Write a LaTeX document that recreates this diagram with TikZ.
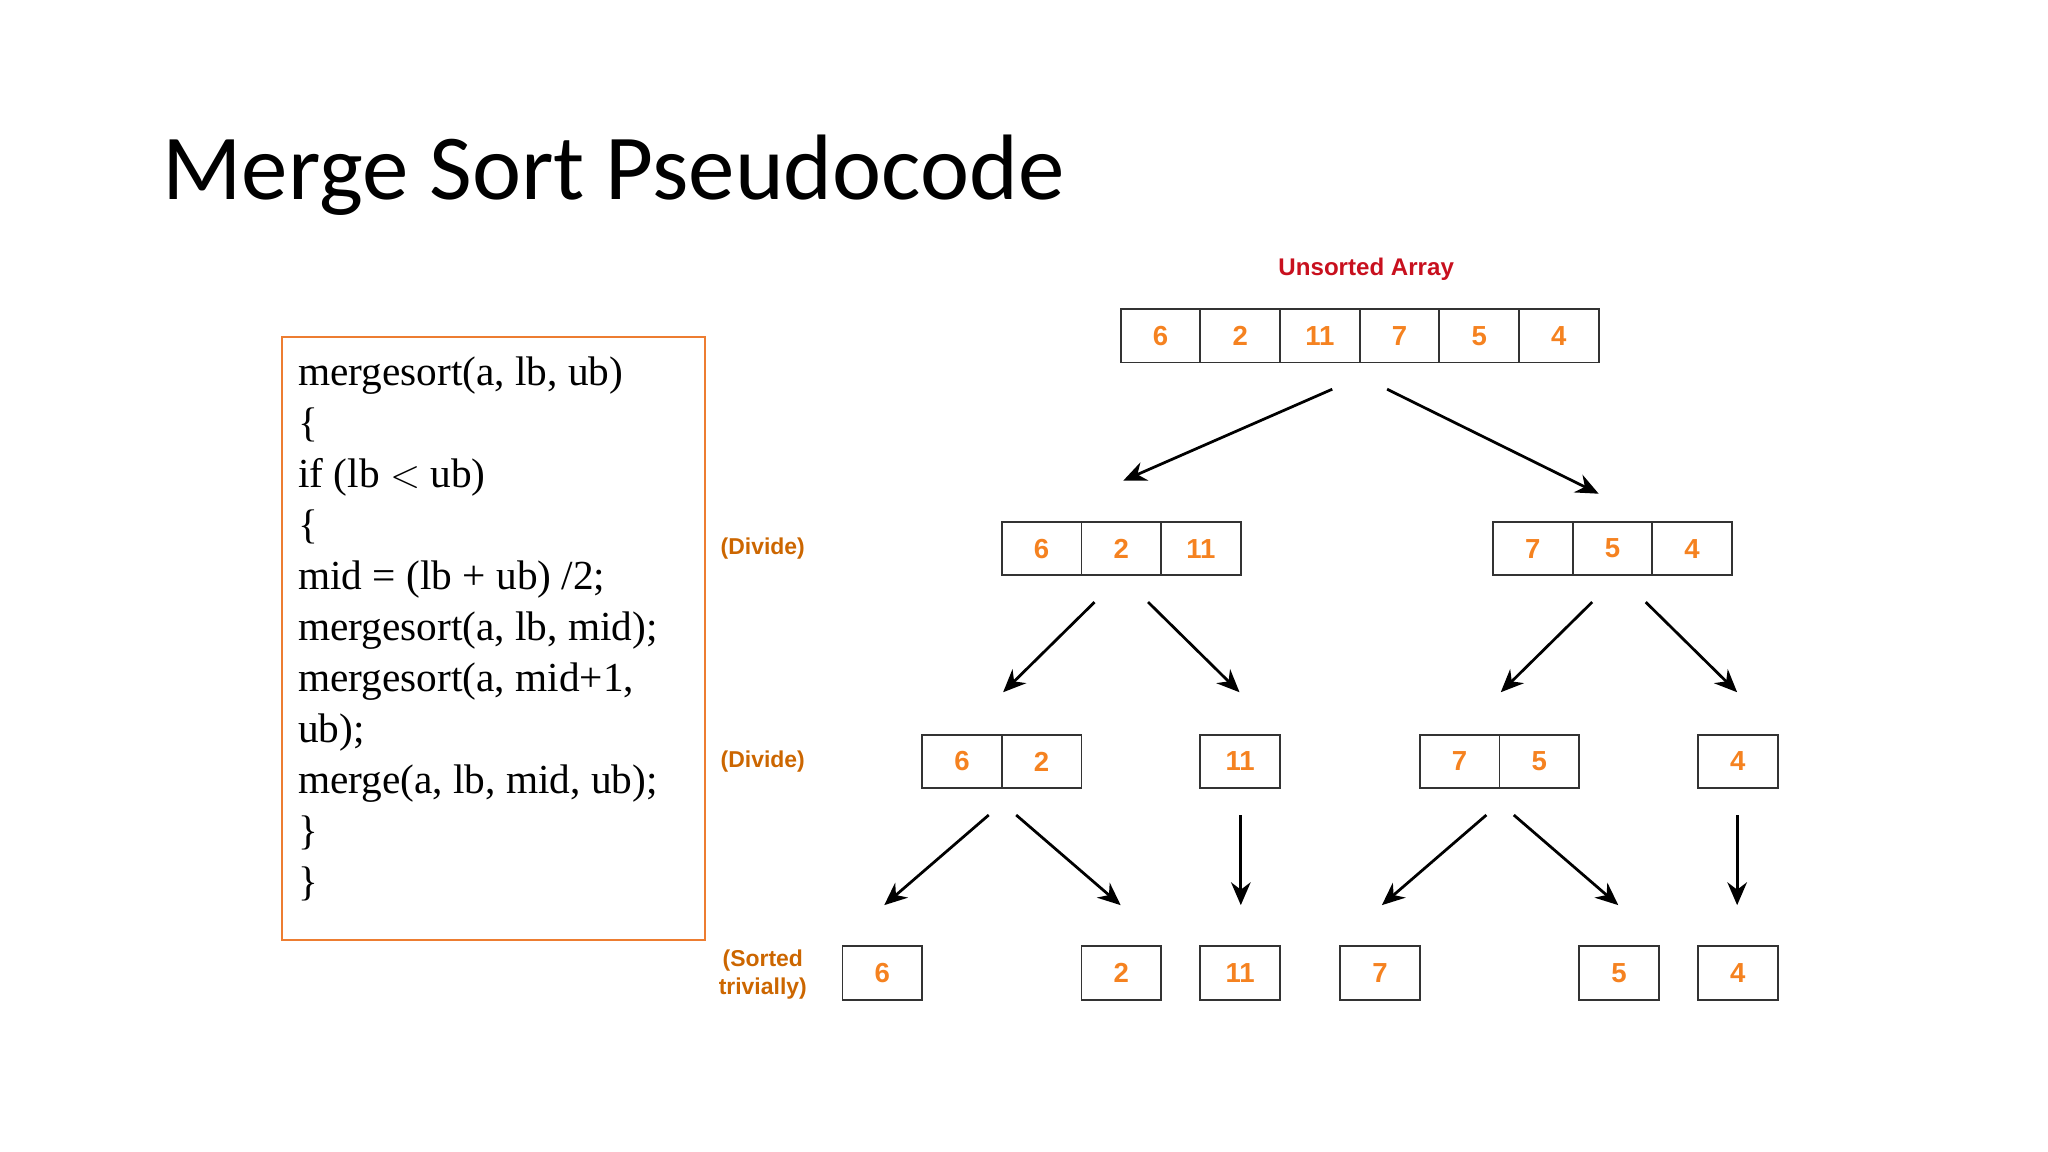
\documentclass[tikz,border=0pt]{standalone}
\usepackage{fontspec}
\setmainfont{Liberation Serif}
\newfontfamily\titlefont{Carlito}
\newfontfamily\numfont{Liberation Sans}
\usetikzlibrary{arrows.meta}
\definecolor{numorange}{RGB}{245,130,32}
\definecolor{labred}{RGB}{200,16,30}
\definecolor{boxorange}{RGB}{237,125,49}
\definecolor{labbrown}{RGB}{204,102,0}
\tikzset{
  cell/.style={draw=black!80,thick,minimum width=12.2mm,minimum height=8.2mm,
    inner sep=0pt,font=\numfont\bfseries\fontsize{12}{14}\selectfont,text=numorange},
  steplab/.style={font=\numfont\bfseries\fontsize{10}{12}\selectfont,text=labbrown,align=center},
  split/.style={-{Stealth[length=3.5mm,width=3mm]},very thick}
}
% row of cells: name, x of first centre, y, list
\newcommand{\cellrow}[4]{%
  \foreach \v [count=\i] in {#4}
    \node[cell] (#1-\i) at ({#2+61*(\i-1)},#3) {\v};
}
\begin{document}
\begin{tikzpicture}[x=0.2mm,y=-0.2mm]
  \useasboundingbox (0,0) rectangle (1568,882);

  \node[anchor=base west,font=\titlefont\fontsize{40.5}{46}\selectfont] (title) at (118,153) {Merge Sort Pseudocode};

  \node[draw=boxorange,thick,anchor=north west,minimum width=64.8mm,minimum height=92.4mm] (code) at (215,257) {};
  \node[anchor=north west,align=left,inner sep=0pt,font=\fontsize{18}{39\dimexpr0.2mm\relax}\selectfont] (lines) at (228,273)
    {mergesort(a, lb, ub)\\ \{\\ if (lb $<$ ub)\\ \{\\ mid = (lb + ub) /2;\\ mergesort(a, lb, mid);\\
     mergesort(a, mid+1,\\ ub);\\ merge(a, lb, mid, ub);\\ \}\\ \}};

  \node[font=\numfont\bfseries\fontsize{10.5}{12}\selectfont,text=labred] (unsorted) at (1046,206) {Unsorted Array};

  \cellrow{top}{888.5}{257}{6,2,11,7,5,4}
  \cellrow{la}{797.5}{420}{6,2,11}
  \cellrow{ra}{1173.5}{420}{7,5,4}
  \cellrow{lla}{736.5}{583}{6,2}
  \cellrow{llb}{949.5}{583}{11}
  \cellrow{rra}{1117.5}{583}{7,5}
  \cellrow{rrb}{1330.5}{583}{4}
  \node[cell] (s1) at (675.5,745) {6};
  \node[cell] (s2) at (858.5,745) {2};
  \node[cell] (s3) at (949.5,745) {11};
  \node[cell] (s4) at (1056.5,745) {7};
  \node[cell] (s5) at (1239.5,745) {5};
  \node[cell] (s6) at (1330.5,745) {4};

  \node[steplab] (div1) at (584,420) {(Divide)};
  \node[steplab] (div2) at (584,583) {(Divide)};
  \node[steplab] (triv) at (584,746) {(Sorted\\trivially)};

  % arrow ends
  \coordinate (a1) at (1020,298); \coordinate (b1) at (860,368);
  \coordinate (a2) at (1062,298); \coordinate (b2) at (1224,378);
  \coordinate (a3) at (838,461);  \coordinate (b3) at (768,530);
  \coordinate (a4) at (879,461);  \coordinate (b4) at (949,530);
  \coordinate (a5) at (1219,461); \coordinate (b5) at (1149,530);
  \coordinate (a6) at (1260,461); \coordinate (b6) at (1330,530);
  \coordinate (a7) at (757,624);  \coordinate (b7) at (677,693);
  \coordinate (a8) at (778,624);  \coordinate (b8) at (858,693);
  \coordinate (a9) at (950,624);  \coordinate (b9) at (950,693);
  \coordinate (a10) at (1138,624); \coordinate (b10) at (1058,693);
  \coordinate (a11) at (1159,624); \coordinate (b11) at (1239,693);
  \coordinate (a12) at (1330,624); \coordinate (b12) at (1330,693);
  \foreach \k in {1,...,12}
    \draw[split] (a\k) -- (b\k);
\end{tikzpicture}
\end{document}
